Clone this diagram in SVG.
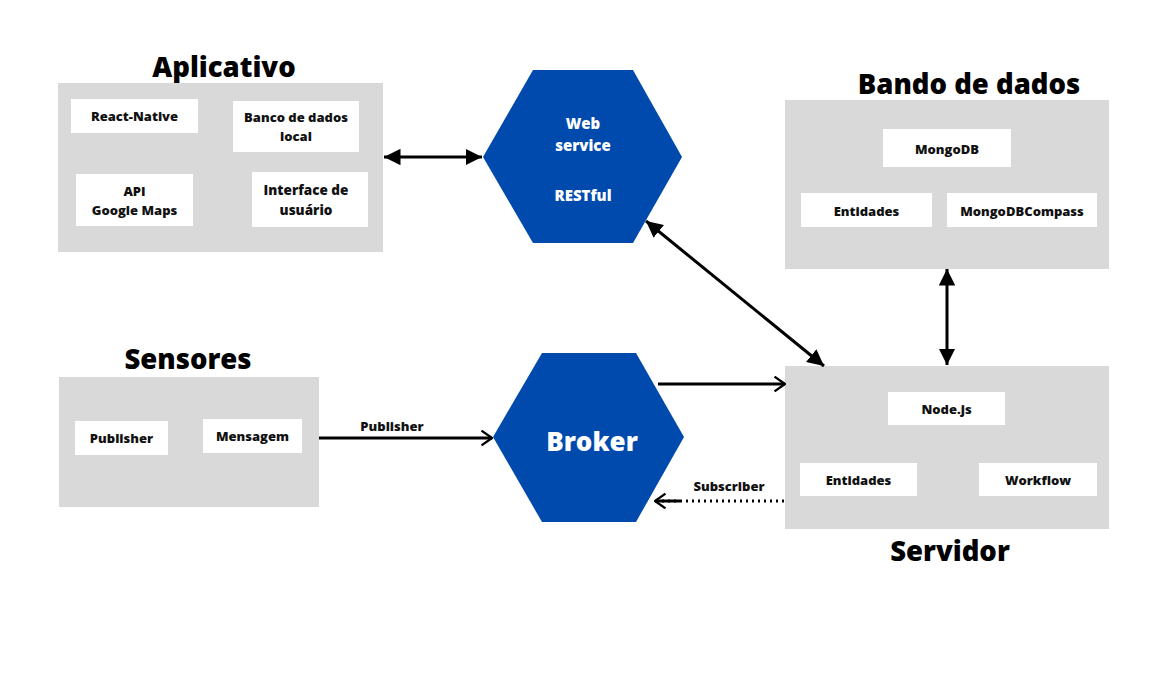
<svg xmlns="http://www.w3.org/2000/svg" width="1165" height="679" viewBox="0 0 1165 679">
<defs>
<style>
.grp{fill:#d9d9d9}
.box{fill:#ffffff}
.hex{fill:#004aad}
.title{font-family:"Open Sans","Liberation Sans",sans-serif;font-weight:800;font-size:27.5px;fill:#000;text-anchor:middle}
.lbl{font-family:"Open Sans","Liberation Sans",sans-serif;font-weight:800;font-size:13px;fill:#111;text-anchor:middle;dominant-baseline:central}
.hlbl{font-family:"Open Sans","Liberation Sans",sans-serif;font-weight:800;font-size:15px;fill:#fff;text-anchor:middle;dominant-baseline:central}
.elbl{font-family:"Open Sans","Liberation Sans",sans-serif;font-weight:800;font-size:13px;fill:#111;text-anchor:middle}
.ln{stroke:#000;stroke-width:3;fill:none}
.dot{stroke:#000;stroke-width:3;fill:none;stroke-dasharray:2 4}
</style>
<marker id="tri" viewBox="0 0 10 10" refX="10" refY="5" markerWidth="5.5" markerHeight="5.5" orient="auto-start-reverse" markerUnits="strokeWidth">
<path d="M0,0 L10,5 L0,10 z" fill="#000"/>
</marker>
<marker id="chev" viewBox="0 0 12 16" refX="11" refY="8" markerWidth="4.2" markerHeight="5.6" orient="auto" markerUnits="strokeWidth">
<path d="M1,1 L11,8 L1,15" fill="none" stroke="#000" stroke-width="2.2"/>
</marker>
</defs>

<g id="aplicativo">
<text class="title" x="224" y="77">Aplicativo</text>
<rect class="grp" x="58" y="83" width="325" height="169"/>
<rect class="box" x="71" y="99" width="127" height="34"/>
<text class="lbl" x="134.5" y="116">React-Native</text>
<rect class="box" x="233" y="101" width="126" height="51"/>
<text class="lbl" x="296" y="117">Banco de dados</text>
<text class="lbl" x="296" y="136">local</text>
<rect class="box" x="76" y="174" width="117" height="52"/>
<text class="lbl" x="134.5" y="191">API</text>
<text class="lbl" x="134.5" y="210">Google Maps</text>
<rect class="box" x="252" y="172" width="116" height="55"/>
<text class="lbl" x="306" y="190" style="font-size:13.5px">Interface de</text>
<text class="lbl" x="306" y="210" style="font-size:13.5px">usuário</text>
</g>

<g id="webservice">
<polygon class="hex" points="483,157 533,70 633,70 682,157 633,243 533,243"/>
<text class="hlbl" x="583" y="123">Web</text>
<text class="hlbl" x="583" y="145">service</text>
<text class="hlbl" x="583" y="195">RESTful</text>
</g>

<g id="bancodados">
<text class="title" x="969" y="94">Bando de dados</text>
<rect class="grp" x="785" y="100" width="324" height="169"/>
<rect class="box" x="883" y="129" width="128" height="38"/>
<text class="lbl" x="947" y="149">MongoDB</text>
<rect class="box" x="801" y="193" width="131" height="34"/>
<text class="lbl" x="866.5" y="211">Entidades</text>
<rect class="box" x="947" y="193" width="150" height="34"/>
<text class="lbl" x="1022" y="211">MongoDBCompass</text>
</g>

<g id="sensores">
<text class="title" x="188" y="369">Sensores</text>
<rect class="grp" x="59" y="377" width="260" height="130"/>
<rect class="box" x="75" y="421" width="93" height="34"/>
<text class="lbl" x="121.5" y="438">Publisher</text>
<rect class="box" x="203" y="419" width="99" height="34"/>
<text class="lbl" x="252.5" y="436">Mensagem</text>
</g>

<g id="broker">
<polygon class="hex" points="493,437 542,353 636,353 684,437 636,522 542,522"/>
<text class="hlbl" x="592" y="441" style="font-size:26px">Broker</text>
</g>

<g id="servidor">
<rect class="grp" x="785" y="366" width="324" height="163"/>
<rect class="box" x="888" y="392" width="117" height="33"/>
<text class="lbl" x="946.5" y="409">Node.js</text>
<rect class="box" x="800" y="463" width="117" height="33"/>
<text class="lbl" x="858.5" y="480">Entidades</text>
<rect class="box" x="979" y="463" width="118" height="33"/>
<text class="lbl" x="1038" y="480">Workflow</text>
<text class="title" x="950" y="561">Servidor</text>
</g>

<g id="connectors">
<line class="ln" x1="384" y1="157" x2="482" y2="157" marker-start="url(#tri)" marker-end="url(#tri)"/>
<line class="ln" x1="646" y1="221" x2="824" y2="366" marker-start="url(#tri)" marker-end="url(#tri)"/>
<line class="ln" x1="947" y1="269" x2="947" y2="365" marker-start="url(#tri)" marker-end="url(#tri)"/>
<line class="ln" x1="319" y1="438" x2="492" y2="438" marker-end="url(#chev)"/>
<text class="elbl" x="392" y="431">Publisher</text>
<line class="ln" x1="658" y1="384" x2="785" y2="384" marker-end="url(#chev)"/>
<line class="dot" x1="784" y1="501" x2="656" y2="501"/>
<line class="ln" x1="680" y1="501" x2="655" y2="501" marker-end="url(#chev)"/>
<text class="elbl" x="729" y="491">Subscriber</text>
</g>
</svg>
